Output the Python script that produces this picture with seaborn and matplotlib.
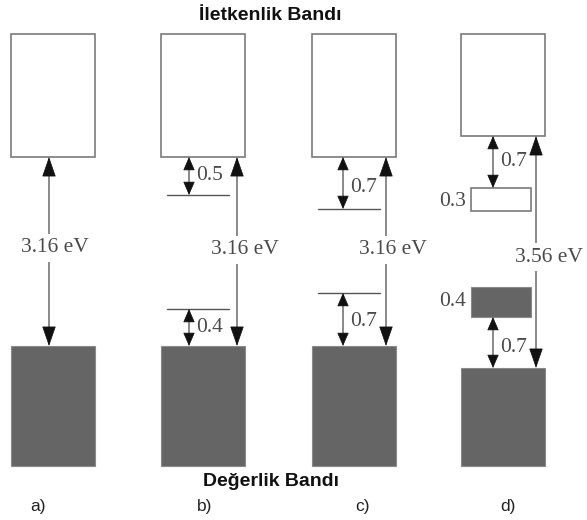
import matplotlib
matplotlib.use("Agg")
import matplotlib.pyplot as plt
import matplotlib.patches as mpatches
import seaborn as sns

# ---- data ----
panels = ["a)", "b)", "c)", "d)"]
gap_labels = ["3.16 eV", "3.16 eV", "3.16 eV", "3.56 eV"]
donor_depth = [None, "0.5", "0.7", "0.7"]
acceptor_height = [None, "0.4", "0.7", "0.7"]
donor_band_width = [None, None, None, "0.3"]
acc_band_width = [None, None, None, "0.4"]
title_top = "İletkenlik Bandı"
title_bottom = "Değerlik Bandı"

# ---- layout (pixel coordinates) ----
box_x = [11, 161, 312, 461]
box_w = 84
cb_top = 34
cb_bottom = [157, 157, 157, 136]
vb_top = [346, 346, 346, 368]
vb_bottom = 466
main_arrow_x = [49, 237, 386, 536]
gap_label_xy = [(55, 248), (245, 250), (393, 250), (549, 257)]
sub_arrow_x = [None, 189, 343, 493]
donor_y = [None, 195, 209, 188]
acc_y = [None, 309, 293, 317]
line_x = [None, (167, 229), (318, 380), None]
sub_label_y = [None, (176, 328), (187, 322), (162, 347)]
panel_label_x = [38, 205, 363, 508]

sns.set_theme(style="white")
plt.rcParams['font.family'] = ['DejaVu Sans']

fig = plt.figure(figsize=(5.87, 5.20), dpi=100)
ax = fig.add_axes([0, 0, 1, 1])
ax.set_xlim(0, 587)
ax.set_ylim(520, 0)
ax.axis("off")

gray = "#656565"
edge = "#7a7a7a"
linecol = "#8a8a8a"
headcol = "#111111"
txtcol = "#4a4a4a"
serif = "Liberation Serif"
numfs = 15.5


def darrow(x, y0, y1, big=True):
    # gray shaft plus black triangular heads at both ends
    hl = 18 if big else 12
    m = 30 if big else 22
    ax.plot([x, x], [y0 + 2, y1 - 2], color=linecol, lw=1.4, solid_capstyle="butt")
    hl_pt = hl / 1.389
    style = f"-|>,head_length={hl_pt / m:.3f},head_width={0.15 if big else 0.17}"
    ax.annotate("", xy=(x, y0), xytext=(x, y0 + hl),
                arrowprops=dict(arrowstyle=style, mutation_scale=m, color=headcol,
                                lw=0.5, shrinkA=0, shrinkB=0))
    ax.annotate("", xy=(x, y1), xytext=(x, y1 - hl),
                arrowprops=dict(arrowstyle=style, mutation_scale=m, color=headcol,
                                lw=0.5, shrinkA=0, shrinkB=0))


for i in range(4):
    ax.add_patch(mpatches.Rectangle((box_x[i], cb_top), box_w, cb_bottom[i] - cb_top,
                                    facecolor="white", edgecolor=edge, lw=1.2))
    ax.add_patch(mpatches.Rectangle((box_x[i], vb_top[i]), box_w, vb_bottom - vb_top[i],
                                    facecolor=gray, edgecolor="#8a8a8a", lw=0.8))
    darrow(main_arrow_x[i], cb_bottom[i], vb_top[i], big=True)
    gx, gy = gap_label_xy[i]
    ax.text(gx, gy, gap_labels[i], ha="center", va="center", fontsize=numfs,
            family=serif, color=txtcol,
            bbox=dict(facecolor="white", edgecolor="none", pad=3))
    ax.text(panel_label_x[i], 507, panels[i], ha="center", va="center",
            fontsize=12.5, family="Liberation Sans", color="#222222")

    if donor_depth[i] is None:
        continue
    sx = sub_arrow_x[i]
    ly0, ly1 = sub_label_y[i]
    if line_x[i] is not None:
        x0, x1 = line_x[i]
        ax.plot([x0, x1], [donor_y[i], donor_y[i]], color="#555555", lw=1.0)
        ax.plot([x0, x1], [acc_y[i], acc_y[i]], color="#555555", lw=1.0)
    else:
        ax.add_patch(mpatches.Rectangle((471, donor_y[i]), 60, 23,
                                        facecolor="white", edgecolor=edge, lw=1.2))
        ax.add_patch(mpatches.Rectangle((471, 287), 60, acc_y[i] - 287,
                                        facecolor=gray, edgecolor="#8a8a8a", lw=0.8))
        ax.text(466, donor_y[i] + 13, donor_band_width[i], ha="right", va="center",
                fontsize=numfs, family=serif, color=txtcol)
        ax.text(466, 302, acc_band_width[i], ha="right", va="center",
                fontsize=numfs, family=serif, color=txtcol)
    darrow(sx, cb_bottom[i], donor_y[i], big=False)
    darrow(sx, acc_y[i], vb_top[i], big=False)
    ax.text(sx + 7, ly0, donor_depth[i], ha="left", va="center",
            fontsize=numfs, family=serif, color=txtcol)
    ax.text(sx + 7, ly1, acceptor_height[i], ha="left", va="center",
            fontsize=numfs, family=serif, color=txtcol)

ax.text(270, 15, title_top, ha="center", va="center", fontsize=14,
        family="Liberation Sans", weight="bold", color="#111111")
ax.text(271, 481, title_bottom, ha="center", va="center", fontsize=14,
        family="Liberation Sans", weight="bold", color="#111111")

fig.savefig("out.png", dpi=100)
